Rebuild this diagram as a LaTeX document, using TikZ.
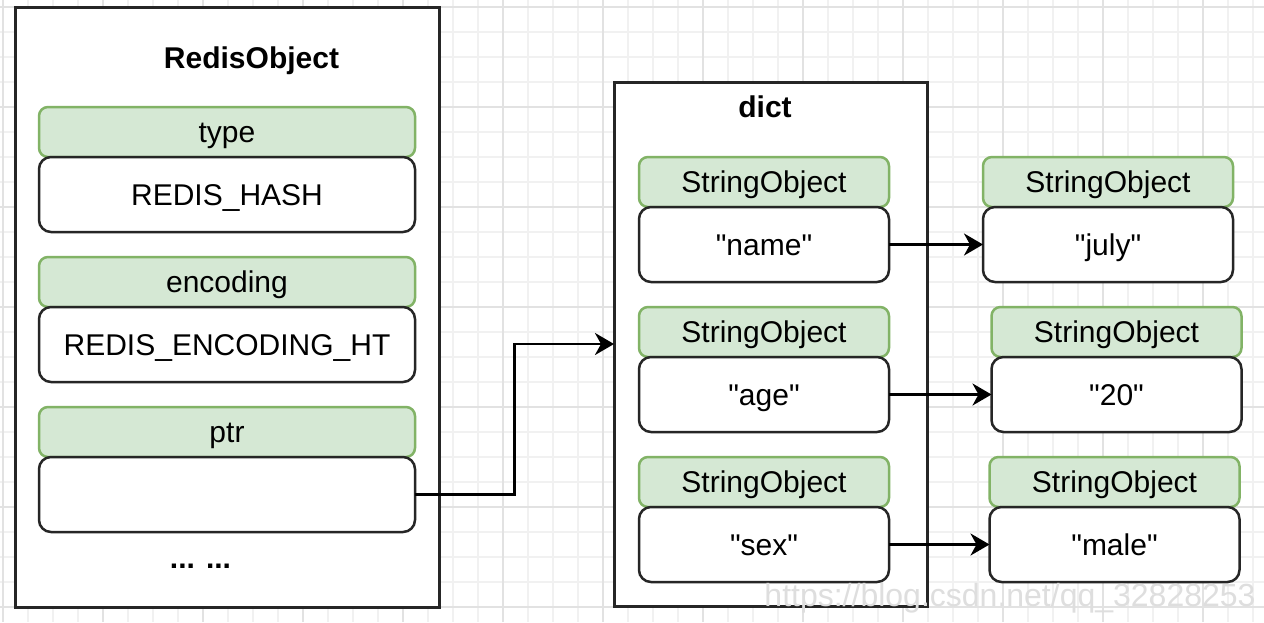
\documentclass[tikz,border=0pt]{standalone}
\usepackage{fontspec}
\setmainfont{Liberation Sans}
\usetikzlibrary{arrows.meta,calc}
\definecolor{gfill}{HTML}{D5E8D4}
\definecolor{gline}{HTML}{82B366}
\definecolor{dk}{HTML}{262626}
\definecolor{gmin}{HTML}{F1F1F1}
\definecolor{gmaj}{HTML}{E2E2E2}
\newcommand{\q}[1]{\textquotedbl#1\textquotedbl}
\begin{document}
\begin{tikzpicture}[x=1pt,y=-1pt,
 lbl/.style={font=\fontsize{30}{36}\selectfont, text height=27pt, text depth=6pt, inner sep=0pt, outer sep=0pt},
 hdr/.style={lbl, draw=gline, fill=gfill, line width=2.5pt, rounded corners=9pt, minimum height=50pt},
 val/.style={lbl, draw=dk, fill=white, line width=2.5pt, rounded corners=12pt, minimum height=75pt},
 wideb/.style={minimum width=376pt},
 narrowb/.style={minimum width=250pt},
 container/.style={draw=dk, fill=white, line width=3pt, inner sep=0pt, outer sep=0pt},
 arr/.style={draw=black, line width=2.8pt, -{Stealth[length=19pt,width=22pt,inset=6pt]}},
 ttl/.style={font=\fontsize{30}{36}\selectfont\bfseries, inner sep=0pt, anchor=base},
 gridmin/.style={draw=gmin, line width=2pt},
 gridmaj/.style={draw=gmaj, line width=2pt},
]
\useasboundingbox (0,0) rectangle (1264,622);
\fill[white] (0,0) rectangle (1264,622);
% grid
\foreach \x in {3,28,...,1264} \draw[gridmin] (\x,0) -- (\x,622);
\foreach \y in {7,32,...,622} \draw[gridmin] (0,\y) -- (1264,\y);
\foreach \x in {3,103,...,1264} \draw[gridmaj] (\x,0) -- (\x,622);
\foreach \y in {7,107,...,622} \draw[gridmaj] (0,\y) -- (1264,\y);

% RedisObject container
\node[container, minimum width=424pt, minimum height=600pt] (robj) at (227,307) {};
\node[ttl] (robjt) at (251.5,68) {RedisObject};
\node[hdr, wideb] (typeh) at (227,132) {type};
\node[val, wideb] (typev) at (227,194.5) {REDIS\_HASH};
\node[hdr, wideb] (ench) at (227,282) {encoding};
\node[val, wideb] (encv) at (227,344.5) {REDIS\_ENCODING\_HT};
\node[hdr, wideb] (ptrh) at (227,432) {ptr};
\node[val, wideb] (ptrv) at (227,494.5) {};
\node[ttl] (dots) at (200.5,568) {... ...};

% dict container
\node[container, minimum width=313pt, minimum height=524pt] (dict) at (770.5,344) {};
\node[ttl] (dictt) at (765,117) {dict};
\node[hdr, narrowb] (k1h) at (764,182) {StringObject};
\node[val, narrowb] (k1v) at (764,244.5) {\q{name}};
\node[hdr, narrowb] (k2h) at (764,332) {StringObject};
\node[val, narrowb] (k2v) at (764,394.5) {\q{age}};
\node[hdr, narrowb] (k3h) at (764,482) {StringObject};
\node[val, narrowb] (k3v) at (764,544.5) {\q{sex}};

% value objects
\node[hdr, narrowb] (v1h) at (1108,182) {StringObject};
\node[val, narrowb] (v1v) at (1108,244.5) {\q{july}};
\node[hdr, narrowb] (v2h) at (1116.5,332) {StringObject};
\node[val, narrowb] (v2v) at (1116.5,394.5) {\q{20}};
\node[hdr, narrowb] (v3h) at (1114.5,482) {StringObject};
\node[val, narrowb] (v3v) at (1114.5,544.5) {\q{male}};

% connectors
\draw[arr] (ptrv.east) -| ($(ptrv.east)!0.5!(dict.west)$) |- (dict.west);
\draw[arr] (k1v.east) -- (v1v.west);
\draw[arr] (k2v.east) -- (v2v.west);
\draw[arr] (k3v.east) -- (v3v.west);

% watermark
\node[font=\fontsize{32}{38}\selectfont, text=black!13, anchor=base, inner sep=0pt] (wm) at (1010,606) {https://blog.csdn.net/qq\_32828253};
\end{tikzpicture}
\end{document}
